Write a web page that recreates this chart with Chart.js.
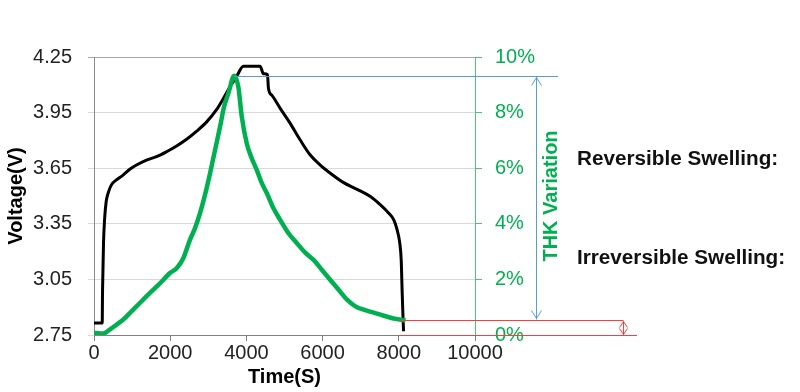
<!DOCTYPE html>
<html><head><meta charset="utf-8">
<script src="https://cdn.jsdelivr.net/npm/chart.js@4/dist/chart.umd.min.js"></script>
<style>html,body{margin:0;padding:0;background:#fff;overflow:hidden}</style>
</head><body>
<canvas id="c" width="800" height="392"></canvas>
<script>
// Voltage curve (time in s, voltage in V)
const voltageTime = [0,215,225,250,280,320,370,457,589,763,939,1115,1378,1640,1905,2168,2431,2695,2957,3221,3395,3571,3747,3921,4360,4447,4553,4579,4667,4887,5150,5413,5676,5939,6203,6553,6905,7255,7518,7737,7868,7956,8026,8063,8089,8110,8125];
const voltage     = [2.815,2.815,3.0,3.25,3.38,3.47,3.515,3.56,3.587,3.613,3.644,3.667,3.694,3.712,3.739,3.77,3.806,3.85,3.90,3.967,4.026,4.089,4.147,4.20,4.20,4.16,4.155,4.08,4.044,3.973,3.892,3.802,3.721,3.667,3.623,3.572,3.536,3.497,3.452,3.407,3.371,3.317,3.245,3.155,2.976,2.85,2.77];
// Thickness variation curve (time in s, %)
const thkTime      = [0,63,237,413,589,763,984,1203,1421,1642,1816,1992,2168,2343,2518,2650,2782,2913,3045,3176,3308,3413,3526,3680,3789,3879,4010,4142,4274,4405,4537,4711,4887,5105,5326,5545,5763,5984,6203,6421,6642,6861,7079,7300,7518,7740,7958,8176];
const thkVariation = [0.08,0.07,0.05,0.19,0.37,0.55,0.85,1.15,1.45,1.74,1.98,2.23,2.40,2.76,3.42,3.84,4.38,5.04,5.81,6.65,7.49,8.21,8.69,9.33,8.92,7.85,6.89,6.35,5.93,5.46,5.10,4.56,4.14,3.66,3.30,2.96,2.70,2.34,1.98,1.63,1.27,1.03,0.91,0.82,0.73,0.64,0.57,0.53];
const xTicks = [0,2000,4000,6000,8000,10000];
const voltTicks = [2.75,3.05,3.35,3.65,3.95,4.25];
const thkTicks = [0,2,4,6,8,10];
const labels = {
  x:'Time(S)', y:'Voltage(V)', y1:'THK Variation',
  rev:'Reversible Swelling:', irr:'Irreversible Swelling:'
};

const FAM = "'Liberation Sans', Arial, sans-serif";
const GREEN = '#00b050';

const annot = {
  id:'annot',
  afterDraw(chart){
    const c = chart.ctx, x = chart.scales.x, y1 = chart.scales.y1;
    const peak = Math.max(...thkVariation);
    const peakT = thkTime[thkVariation.indexOf(peak)];
    const endV = thkVariation[thkVariation.length-1];
    const endT = 8000;
    const yP = Math.round(y1.getPixelForValue(peak))+0.5;
    const yE = Math.round(y1.getPixelForValue(endV))+0.5;
    const y0 = Math.round(y1.getPixelForValue(0))+0.5;
    const ln = (a,b,cc,d)=>{c.beginPath();c.moveTo(a,b);c.lineTo(cc,d);c.stroke();};
    c.save();
    // blue
    c.lineWidth = 1; c.strokeStyle = '#5b9bd5';
    ln(x.getPixelForValue(peakT), yP, 558, yP);
    const ax = 536.5;
    ln(ax, yP, ax, yE-1);
    c.beginPath(); c.moveTo(ax-5, yP+9); c.lineTo(ax, yP+1); c.lineTo(ax+5, yP+9); c.stroke();
    c.beginPath(); c.moveTo(ax-5, yE-10); c.lineTo(ax, yE-2); c.lineTo(ax+5, yE-10); c.stroke();
    // red
    c.strokeStyle = '#ff3b3b';
    const rx = x.getPixelForValue(endT);
    ln(rx, yE, 623, yE);
    ln(rx, y0, 637, y0);
    const dx = 623.5;
    ln(dx, yE, dx, y0);
    c.beginPath(); c.moveTo(dx-4, yE+7); c.lineTo(dx, yE+1); c.lineTo(dx+4, yE+7); c.stroke();
    c.beginPath(); c.moveTo(dx-4, y0-7); c.lineTo(dx, y0-1); c.lineTo(dx+4, y0-7); c.stroke();
    // right axis title
    c.fillStyle = GREEN;
    c.font = "bold 20px " + FAM;
    c.textAlign = 'center'; c.textBaseline = 'middle';
    c.translate(551, (chart.chartArea.top+chart.chartArea.bottom)/2);
    c.rotate(-Math.PI/2);
    c.fillText(labels.y1, 0, 0);
    c.restore();
    c.save();
    c.fillStyle = '#111';
    c.font = "bold 20.7px " + FAM;
    c.textAlign = 'left'; c.textBaseline = 'alphabetic';
    c.fillText(labels.rev, 577, 165);
    c.fillText(labels.irr, 577, 264);
    c.restore();
  }
};

new Chart(document.getElementById('c'), {
  type:'scatter',
  data:{
    datasets:[
      {label:'Voltage', data: voltageTime.map((t,i)=>({x:t,y:voltage[i]})), yAxisID:'y',
       showLine:true, borderColor:'#000', borderWidth:3, pointRadius:0, cubicInterpolationMode:'monotone', order:2},
      {label:'THK', data: thkTime.map((t,i)=>({x:t,y:thkVariation[i]})), yAxisID:'y1',
       showLine:true, borderColor:GREEN, borderWidth:4.5, pointRadius:0, cubicInterpolationMode:'monotone', order:1}
    ]
  },
  options:{
    responsive:false, animation:false,
    layout:{padding:{top:57,left:0,right:235,bottom:0}},
    plugins:{legend:{display:false}, tooltip:{enabled:false}},
    scales:{
      x:{type:'linear', min:0, max:10000,
        afterBuildTicks:s=>{s.ticks = xTicks.map(v=>({value:v}));},
        grid:{drawOnChartArea:false, drawTicks:true, tickLength:6, color:'#808080'},
        border:{color:'#808080', width:1},
        ticks:{font:{size:20, family:FAM}, color:'#222', padding:0, maxRotation:0, autoSkip:false, callback:v=>String(v)},
        title:{display:true, text:labels.x, font:{size:20, weight:'bold', family:FAM}, color:'#000', padding:{top:0,bottom:3}},
        afterFit:s=>{s.height=57;}
      },
      y:{type:'linear', position:'left', min:2.75, max:4.25,
        afterBuildTicks:s=>{s.ticks = voltTicks.map(v=>({value:v}));},
        grid:{color:c=> (c.tick && c.tick.value===4.25) ? '#a6a6a6' : '#d9d9d9', tickLength:6},
        border:{color:'#8c8c8c'},
        ticks:{font:{size:20, family:FAM}, color:'#222', padding:16, callback:v=>Number(v).toFixed(2)},
        title:{display:true, text:labels.y, font:{size:20, weight:'bold', family:FAM}, color:'#000', padding:{top:4,bottom:4}},
        afterFit:s=>{s.width=94;}
      },
      y1:{type:'linear', position:'right', min:0, max:10,
        afterBuildTicks:s=>{s.ticks = thkTicks.map(v=>({value:v}));},
        grid:{drawOnChartArea:false, color:'#4cc47a', tickLength:7},
        border:{color:'#4cc47a'},
        ticks:{font:{size:20, family:FAM}, color:GREEN, padding:13, callback:v=>v+'%'},
        afterFit:s=>{s.width=90;}
      }
    }
  },
  plugins:[annot]
});
</script>
</body></html>
